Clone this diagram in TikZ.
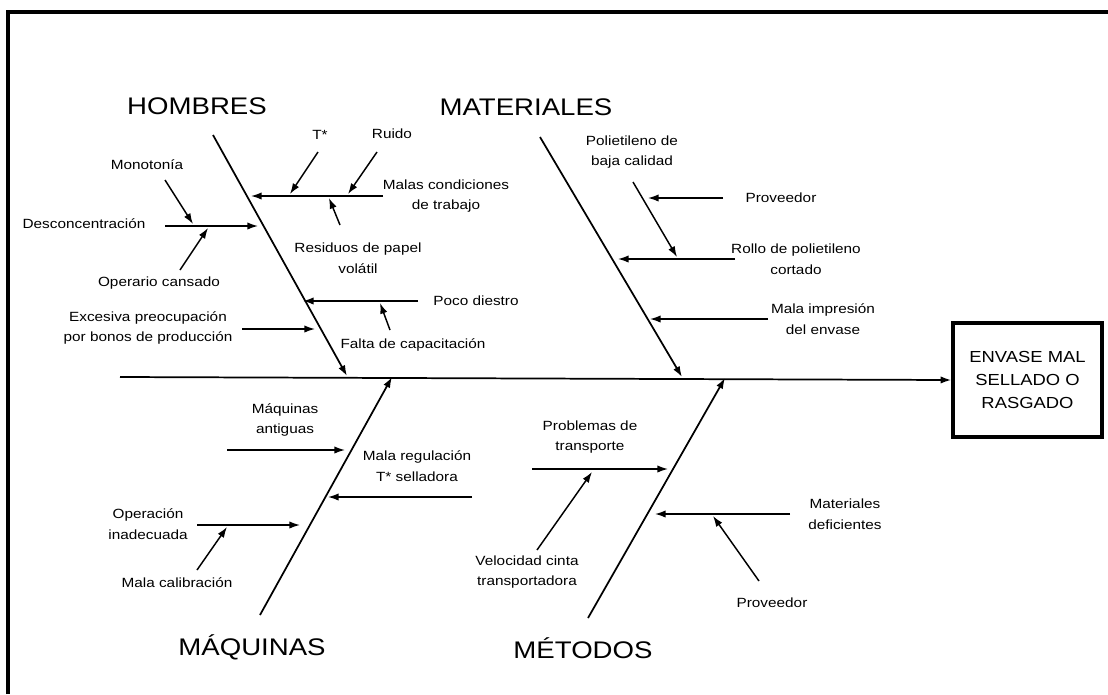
\documentclass[tikz,border=0pt]{standalone}
\usepackage{fontspec}
\setmainfont{Liberation Sans}[FakeStretch=1.15]
\usepackage{tikz}
\usetikzlibrary{arrows.meta, positioning}

\begin{document}
\begin{tikzpicture}[x=0.75pt,y=-0.75pt,
        arr/.style={line width=1.1pt,-{Latex[length=8pt,width=5.5pt]}},
        bone/.style={line width=1.3pt,-{Latex[length=8pt,width=5.5pt]}},
        big/.style={font=\fontsize{18}{20}\selectfont, inner sep=0pt},
        lbl/.style={font=\fontsize{10}{15.5}\selectfont, align=center, inner sep=0pt}]
        \useasboundingbox (0,0) rectangle (1108,694);

        % 边框
        \coordinate (fb) at (8,694);
        \coordinate (ft) at (8,12);
        \coordinate (fr) at (1108,12);
        \draw[line width=2.4pt] (fb) -- (ft) -- (fr);

        % 效果框与主干
        \node[draw, line width=2.6pt, minimum width=111.75pt, minimum height=85.5pt,
              align=center, font=\fontsize{12}{17}\selectfont] (effect) at (1027.5,380)
              {ENVASE MAL\\SELLADO O\\RASGADO};
        \coordinate (s0) at (120,377);
        \draw[bone] (s0) -- (effect.west);

        % 四个分支
        \node[big] (hombres) at (197,106) {HOMBRES};
        \node[big] (materiales) at (526,107) {MATERIALES};
        \node[big] (maquinas) at (252,647) {MÁQUINAS};
        \node[big] (metodos) at (583,648) {MÉTODOS};
        \coordinate (h0) at (213,135);  \coordinate (h1) at (347,376);
        \coordinate (m0) at (540,137);  \coordinate (m1) at (682,377);
        \coordinate (q0) at (260,615);  \coordinate (q1) at (392,377);
        \coordinate (t0) at (588,618);  \coordinate (t1) at (725,378);
        \draw[bone] (h0) -- (h1);
        \draw[bone] (m0) -- (m1);
        \draw[bone] (q0) -- (q1);
        \draw[bone] (t0) -- (t1);

        % HOMBRES
        \node[lbl] (condic) at (446,196) {Malas condiciones\\de trabajo};
        \coordinate (condicA) at (383,196);  \coordinate (condicB) at (251,196);
        \draw[arr] (condicA) -- (condicB);
        \node[lbl] (temp) at (320,135) {T*};
        \coordinate (tempA) at (318,152);  \coordinate (tempB) at (290,194);
        \draw[arr] (tempA) -- (tempB);
        \node[lbl] (ruido) at (392,134) {Ruido};
        \coordinate (ruidoA) at (377,152);  \coordinate (ruidoB) at (348,194);
        \draw[arr] (ruidoA) -- (ruidoB);
        \node[lbl] (resid) at (358,258) {Residuos de papel\\volátil};
        \coordinate (residA) at (340,225);  \coordinate (residB) at (329,198);
        \draw[arr] (residA) -- (residB);

        \node[lbl] (descon) at (84,224) {Desconcentración};
        \coordinate (desconA) at (165,226);  \coordinate (desconB) at (258,226);
        \draw[arr] (desconA) -- (desconB);
        \node[lbl] (monot) at (147,165) {Monotonía};
        \coordinate (monotA) at (165,180);  \coordinate (monotB) at (193,224);
        \draw[arr] (monotA) -- (monotB);
        \node[lbl] (cansado) at (159,283) {Operario cansado};
        \coordinate (cansadoA) at (180,270);  \coordinate (cansadoB) at (208,228);
        \draw[arr] (cansadoA) -- (cansadoB);

        \node[lbl] (diestro) at (476,301) {Poco diestro};
        \coordinate (diestroA) at (418,301);  \coordinate (diestroB) at (303,301);
        \draw[arr] (diestroA) -- (diestroB);
        \node[lbl] (capac) at (413,345) {Falta de capacitación};
        \coordinate (capacA) at (390,330);  \coordinate (capacB) at (380,303);
        \draw[arr] (capacA) -- (capacB);

        \node[lbl] (bonos) at (148,328) {Excesiva preocupación\\por bonos de producción};
        \coordinate (bonosA) at (242,329);  \coordinate (bonosB) at (315,329);
        \draw[arr] (bonosA) -- (bonosB);

        % MATERIALES
        \node[lbl] (rollo) at (796,259) {Rollo de polietileno\\cortado};
        \coordinate (rolloA) at (735,259);  \coordinate (rolloB) at (618,259);
        \draw[arr] (rolloA) -- (rolloB);
        \node[lbl] (polib) at (632,152) {Polietileno de\\baja calidad};
        \coordinate (polibA) at (633,182);  \coordinate (polibB) at (677,257);
        \draw[arr] (polibA) -- (polibB);
        \node[lbl] (prov1) at (781,198) {Proveedor};
        \coordinate (prov1A) at (723,198);  \coordinate (prov1B) at (648,198);
        \draw[arr] (prov1A) -- (prov1B);
        \node[lbl] (impres) at (823,319) {Mala impresión\\del envase};
        \coordinate (impresA) at (768,319);  \coordinate (impresB) at (650,319);
        \draw[arr] (impresA) -- (impresB);

        % MÁQUINAS
        \node[lbl] (antig) at (285,420) {Máquinas\\antiguas};
        \coordinate (antigA) at (227,450);  \coordinate (antigB) at (345,450);
        \draw[arr] (antigA) -- (antigB);
        \node[lbl] (regul) at (417,466) {Mala regulación\\T* selladora};
        \coordinate (regulA) at (472,497);  \coordinate (regulB) at (328,497);
        \draw[arr] (regulA) -- (regulB);
        \node[lbl] (operac) at (148,524) {Operación\\inadecuada};
        \coordinate (operacA) at (197,525);  \coordinate (operacB) at (300,525);
        \draw[arr] (operacA) -- (operacB);
        \node[lbl] (calib) at (177,583) {Mala calibración};
        \coordinate (calibA) at (197,570);  \coordinate (calibB) at (227,527);
        \draw[arr] (calibA) -- (calibB);

        % MÉTODOS
        \node[lbl] (transp) at (590,437) {Problemas de\\transporte};
        \coordinate (transpA) at (532,469);  \coordinate (transpB) at (668,469);
        \draw[arr] (transpA) -- (transpB);
        \node[lbl] (veloc) at (527,572) {Velocidad cinta\\transportadora};
        \coordinate (velocA) at (537,550);  \coordinate (velocB) at (592,472);
        \draw[arr] (velocA) -- (velocB);
        \node[lbl] (defic) at (845,514) {Materiales\\deficientes};
        \coordinate (deficA) at (790,514);  \coordinate (deficB) at (655,514);
        \draw[arr] (deficA) -- (deficB);
        \node[lbl] (prov2) at (772,603) {Proveedor};
        \coordinate (prov2A) at (759,581);  \coordinate (prov2B) at (713,516);
        \draw[arr] (prov2A) -- (prov2B);
\end{tikzpicture}
\end{document}
